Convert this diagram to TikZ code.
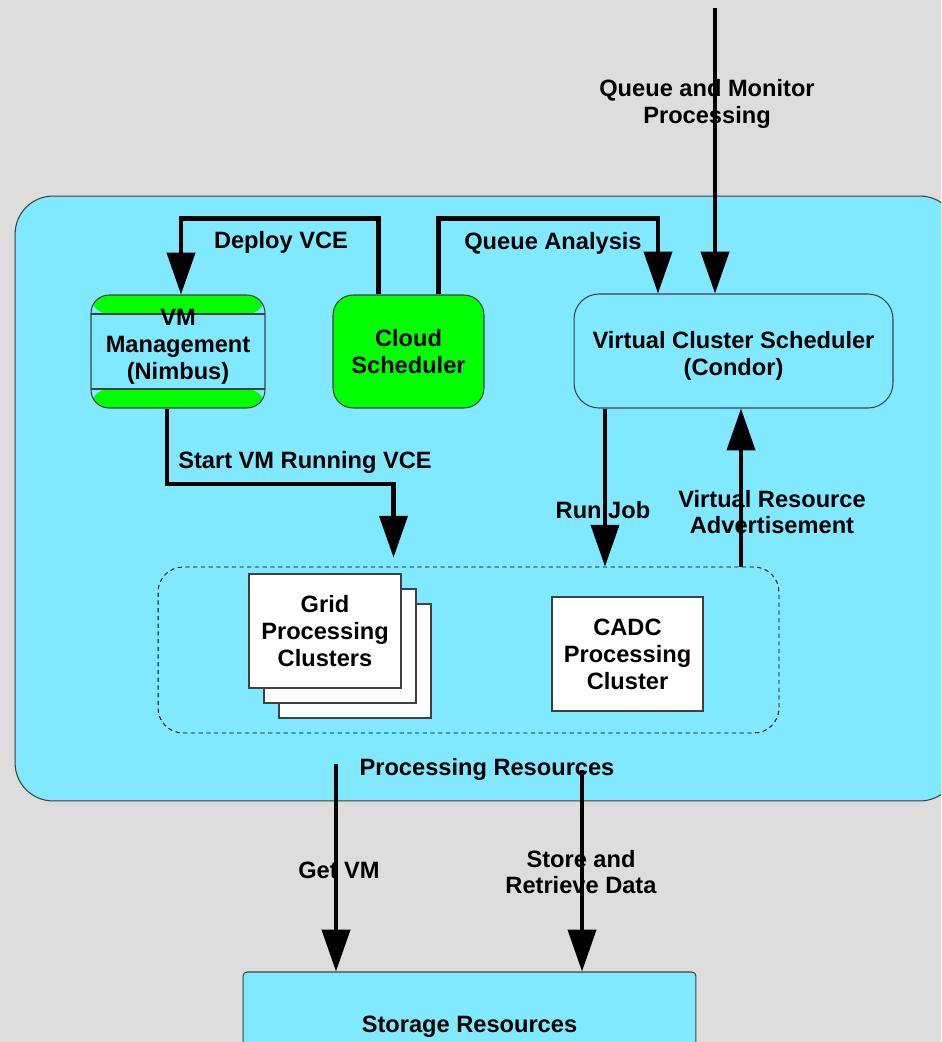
\documentclass[tikz,border=0pt]{standalone}
\usepackage{fontspec}
\setmainfont{Liberation Sans}
\usetikzlibrary{arrows.meta,calc}
\definecolor{panelgrey}{HTML}{DDDDDD}
\definecolor{skycyan}{HTML}{80E8FF}
\definecolor{vmgreen}{HTML}{00FF00}
\newcommand{\diafont}{\fontsize{13.45}{15.3}\selectfont\bfseries}
\tikzset{
  box/.style={draw=black!75, line width=0.6pt, inner sep=0pt, align=center, font=\diafont},
  lbl/.style={inner sep=0pt, align=center, font=\diafont, yshift=-0.04cm},
  bigarrow/.style={line width=2.3pt, -{Triangle[length=23.8pt,width=15.9pt]}},
}
\begin{document}
\begin{tikzpicture}[x=0.02cm, y=-0.02cm]
        \useasboundingbox (0,0) rectangle (941,1042);
        \clip (0,0) rectangle (941,1042);
        \fill[panelgrey] (0,0) rectangle (941,1042);
        % Processing resources
        \node[box, fill=skycyan, rounded corners=0.76cm, minimum width=18.86cm, minimum height=12.1cm] (procbox) at (486.5,498.5) {};
        \node[lbl] (proclbl) at (487,767) {Processing Resources};
        \node[box, dashed, dash pattern=on 2.4pt off 2pt, draw=black, line width=0.5pt, rounded corners=0.5cm,
              minimum width=12.42cm, minimum height=3.32cm] (procres) at (468.5,650) {};
        % Boxes
        \node[box, fill=skycyan, rounded corners=0.36cm, minimum width=3.48cm, minimum height=2.26cm,
              path picture={
                \fill[vmgreen] (path picture bounding box.north west) rectangle ([yshift=-0.38cm]path picture bounding box.north east);
                \fill[vmgreen] ([yshift=0.38cm]path picture bounding box.south west) rectangle (path picture bounding box.south east);
                \draw[black!75, line width=0.6pt] ([yshift=-0.38cm]path picture bounding box.north west) -- ([yshift=-0.38cm]path picture bounding box.north east);
                \draw[black!75, line width=0.6pt] ([yshift=0.38cm]path picture bounding box.south west) -- ([yshift=0.38cm]path picture bounding box.south east);
              }] (vm) at (178,351.5) {};
        \node[lbl] (vmlbl) at (178,345) {VM\\Management\\(Nimbus)};
        \node[box, fill=vmgreen, rounded corners=0.4cm, minimum width=3.02cm, minimum height=2.26cm] (cloud) at (408.5,351.5) {Cloud\\Scheduler};
        \node[box, fill=skycyan, rounded corners=0.5cm, minimum width=6.38cm, minimum height=2.28cm] (vcs) at (733.5,351) {};
        \node[lbl] (vcslbl) at (733.5,354) {Virtual Cluster Scheduler\\(Condor)};
        \node[box, fill=white, minimum width=3.04cm, minimum height=2.28cm] (grid3) at (355,661) {};
        \node[box, fill=white, minimum width=3.04cm, minimum height=2.28cm] (grid2) at (340,646) {};
        \node[box, fill=white, minimum width=3.04cm, minimum height=2.28cm] (grid) at (325,631) {Grid\\Processing\\Clusters};
        \node[box, fill=white, minimum width=3.02cm, minimum height=2.28cm] (cadc) at (627.5,654) {CADC\\Processing\\Cluster};
        \node[box, fill=skycyan, rounded corners=0.08cm, minimum width=9.06cm, minimum height=2.08cm] (storage) at (469.5,1024) {};
        \node[lbl] (storagelbl) at (469.5,1025) {Storage Resources};
        % Connectors
        \draw[bigarrow] ($(cloud.north)+(-30,0)$) -- ++(0,-76) -| ($(vm.north)+(3,0)$);
        \node[lbl] (deploylbl) at (281,240) {Deploy VCE};
        \draw[bigarrow] ($(cloud.north)+(30,0)$) -- ++(0,-76) -| ($(vcs.north)+(-75.5,0)$);
        \node[lbl] (queuelbl) at (553,241) {Queue Analysis};
        \coordinate (feed) at (715,8);
        \draw[bigarrow] (feed) -- (feed |- vcs.north);
        \node[lbl] (monitorlbl) at (707,101.5) {Queue and Monitor\\Processing};
        \draw[bigarrow, shorten >=0.18cm] ($(vm.south)+(-11,0)$) -- ++(0,75) -| ($(procres.north)+(-75,0)$);
        \node[lbl] (startlbl) at (305,460) {Start VM Running VCE};
        \coordinate (runjob) at ($(vcs.south)+(-128.5,0)$);
        \draw[bigarrow] (runjob) -- (runjob |- procres.north);
        \node[lbl] (runlbl) at (603,508) {Run Job};
        \coordinate (advert) at ($(vcs.south)+(7.5,0)$);
        \draw[bigarrow] (advert |- procres.north) -- (advert);
        \node[lbl] (advertlbl) at (772,510) {Virtual Resource\\Advertisement};
        \coordinate (getvm) at (336,764);
        \draw[bigarrow] (getvm) -- (getvm |- storage.north);
        \node[lbl] (getvmlbl) at (339,868) {Get VM};
        \coordinate (storedata) at (582,770);
        \draw[bigarrow] (storedata) -- (storedata |- storage.north);
        \node[lbl] (storelbl) at (581,870) {Store and\\Retrieve Data};
\end{tikzpicture}
\end{document}
